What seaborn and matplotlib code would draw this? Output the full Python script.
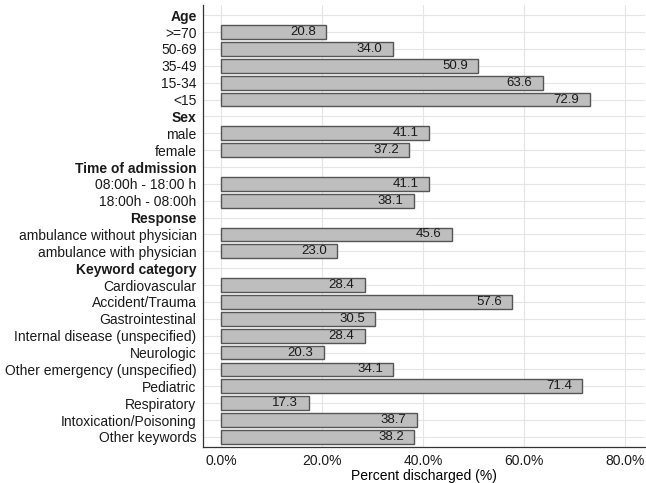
import pandas as pd
import matplotlib.pyplot as plt
import seaborn as sns

# Category rows (top to bottom), headers have no bar
labels = ["Age", ">=70", "50-69", "35-49", "15-34", "<15",
          "Sex", "male", "female",
          "Time of admission", "08:00h - 18:00 h", "18:00h - 08:00h",
          "Response", "ambulance without physician", "ambulance with physician",
          "Keyword category", "Cardiovascular", "Accident/Trauma", "Gastrointestinal",
          "Internal disease (unspecified)", "Neurologic", "Other emergency (unspecified)",
          "Pediatric", "Respiratory", "Intoxication/Poisoning", "Other keywords"]
headers = ["Age", "Sex", "Time of admission", "Response", "Keyword category"]

bar_labels = [">=70", "50-69", "35-49", "15-34", "<15",
              "male", "female",
              "08:00h - 18:00 h", "18:00h - 08:00h",
              "ambulance without physician", "ambulance with physician",
              "Cardiovascular", "Accident/Trauma", "Gastrointestinal",
              "Internal disease (unspecified)", "Neurologic", "Other emergency (unspecified)",
              "Pediatric", "Respiratory", "Intoxication/Poisoning", "Other keywords"]
pct = [20.8, 34.0, 50.9, 63.6, 72.9,
       41.1, 37.2,
       41.1, 38.1,
       45.6, 23.0,
       28.4, 57.6, 30.5, 28.4, 20.3, 34.1, 71.4, 17.3, 38.7, 38.2]

data = pd.DataFrame({"label": bar_labels, "pct": pct})

sns.set_theme(style="whitegrid")
plt.rcParams['font.family'] = ['Liberation Sans', 'DejaVu Sans']

fig = plt.figure(figsize=(6.46, 4.83), dpi=100)
ax = fig.add_axes([0.314, 0.0745, 0.684, 0.915])

sns.barplot(data=data, x="pct", y="label", order=labels, color="#bebebe",
            edgecolor="#555555", linewidth=1, width=0.82, saturation=1, ax=ax)

for i, lab in enumerate(labels):
    if lab in bar_labels:
        v = pct[bar_labels.index(lab)]
        ax.text(v - 4.6, i, f"{v:.1f}", ha="center", va="center",
                fontsize=9.5, color="#1a1a1a")

ax.set_xlim(-3.6, 83.8)
ax.set_ylim(len(labels) - 0.4, -0.6)
ax.set_xticks([0, 20, 40, 60, 80])
ax.set_xticklabels([f"{t:.1f}%" for t in [0, 20, 40, 60, 80]])
ax.set_xlabel("Percent discharged (%)", fontsize=10, color="black", labelpad=1)
ax.set_ylabel("")

for t in ax.get_yticklabels():
    if t.get_text() in headers:
        t.set_fontweight("bold")

ax.tick_params(axis="both", labelsize=10, labelcolor="#1a1a1a", length=3,
               width=0.8, color="#333333", pad=1.5)
ax.tick_params(axis="x", pad=2)
ax.grid(True, color="#e5e5e5", linewidth=0.8)
ax.set_axisbelow(True)
for s in ["top", "right"]:
    ax.spines[s].set_visible(False)
for s in ["left", "bottom"]:
    ax.spines[s].set_color("#333333")
    ax.spines[s].set_linewidth(0.9)

fig.savefig("out.png", dpi=100)
